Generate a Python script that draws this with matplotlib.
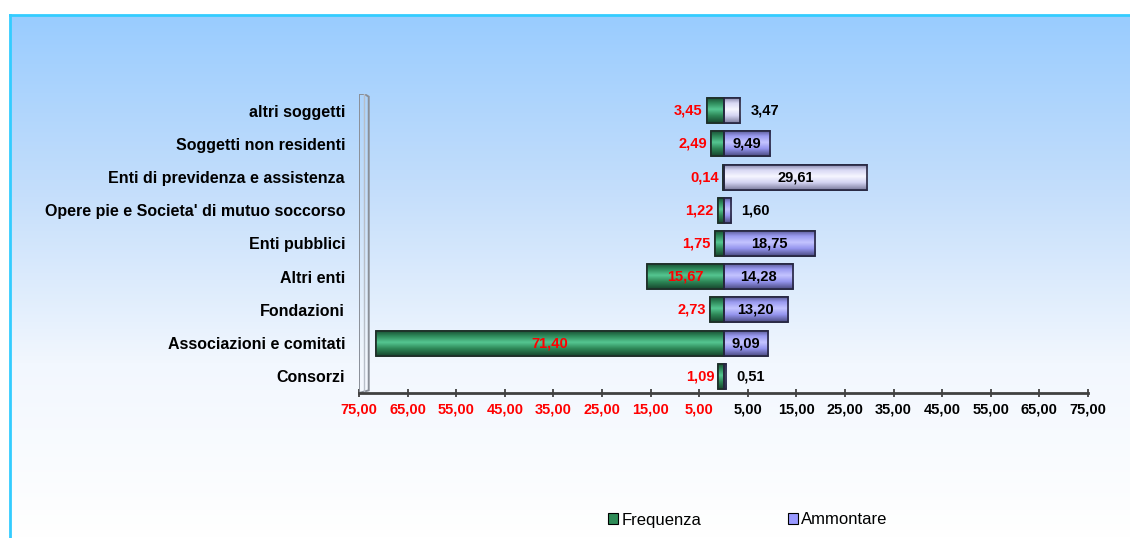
import numpy as np
import matplotlib
matplotlib.use('Agg')
import matplotlib.pyplot as plt
from matplotlib.colors import LinearSegmentedColormap
from matplotlib.patches import Patch, Polygon

plt.rcParams['font.family'] = ['Liberation Sans', 'DejaVu Sans']

# Data (bottom to top)
categorie = ['Consorzi', 'Associazioni e comitati', 'Fondazioni', 'Altri enti',
             'Enti pubblici', "Opere pie e Societa' di mutuo soccorso",
             'Enti di previdenza e assistenza', 'Soggetti non residenti', 'altri soggetti']
frequenza = [1.09, 71.40, 2.73, 15.67, 1.75, 1.22, 0.14, 2.49, 3.45]
ammontare = [0.51, 9.09, 13.20, 14.28, 18.75, 1.60, 29.61, 9.49, 3.47]
tick_vals = [-75, -65, -55, -45, -35, -25, -15, -5, 5, 15, 25, 35, 45, 55, 65, 75]

# lighter shade used on two of the Ammontare bars
amm_light = [False, False, False, False, False, False, True, False, True]

W, H = 1130, 538
fig = plt.figure(figsize=(W / 100, H / 100), dpi=100)

# chart area background: blue to white gradient with a cyan border
bg = fig.add_axes([10 / W, 0, 1 - 10 / W, 1 - 15 / H])
grad = np.linspace(0, 1, 256).reshape(-1, 1)
bg_cmap = LinearSegmentedColormap.from_list('bg', ['#99CCFF', '#C4DEFB', '#F2F7FE', '#FFFFFF'])
bg.imshow(grad, aspect='auto', cmap=bg_cmap, extent=[0, 1, 0, 1], origin='upper')
bg.set_xlim(0, 1)
bg.set_ylim(0, 1)
for s in bg.spines.values():
    s.set_visible(False)
bg.spines['top'].set_visible(True)
bg.spines['left'].set_visible(True)
bg.spines['top'].set_color('#33CCFF')
bg.spines['left'].set_color('#33CCFF')
bg.spines['top'].set_linewidth(2)
bg.spines['left'].set_linewidth(2)
bg.set_xticks([])
bg.set_yticks([])

ax = fig.add_axes([359 / W, 1 - 393 / H, (1088 - 359) / W, (393 - 94) / H])
ax.patch.set_visible(False)

y = np.arange(len(categorie))
bar_h = 0.75

green_cmap = LinearSegmentedColormap.from_list(
    'g', [(0, '#1B5236'), (0.2, '#2F8A5B'), (0.45, '#55C691'), (0.7, '#2E8857'), (1, '#17452D')])
lav_cmap = LinearSegmentedColormap.from_list(
    'l', [(0, '#5E5E9C'), (0.2, '#9A9AF0'), (0.45, '#C4C4FF'), (0.7, '#9595EE'), (1, '#4A4A80')])
lav_light_cmap = LinearSegmentedColormap.from_list(
    'll', [(0, '#8A8AAE'), (0.2, '#D8D8F4'), (0.45, '#F6F6FF'), (0.7, '#D4D4F2'), (1, '#7A7A9C')])

bars_f = ax.barh(y, [-v for v in frequenza], height=bar_h, color='#2E8B57',
                 edgecolor='#1E2E28', linewidth=1.2, zorder=3)
bars_a = ax.barh(y, ammontare, height=bar_h, color='#9999FF',
                 edgecolor='#262640', linewidth=1.2, zorder=3)


def shade(bar, cmap):
    x0, y0 = bar.get_x(), bar.get_y()
    w, h = bar.get_width(), bar.get_height()
    im = ax.imshow(grad, aspect='auto', cmap=cmap, origin='upper',
                   extent=[x0, x0 + w, y0, y0 + h], zorder=3.5)
    im.set_clip_path(bar)
    ax.barh(y0 + h / 2, w, left=x0, height=h, color='none',
            edgecolor=bar.get_edgecolor(), linewidth=1.2, zorder=4)


for b in bars_f:
    shade(b, green_cmap)
for b, light in zip(bars_a, amm_light):
    shade(b, lav_light_cmap if light else lav_cmap)

lbl_size = 10.5
# value labels
for i, (f, a) in enumerate(zip(frequenza, ammontare)):
    if f >= 8:
        ax.text(-f / 2, i, f'{f:.2f}'.replace('.', ','), color='red', fontsize=lbl_size,
                fontweight='bold', ha='center', va='center', zorder=5)
    else:
        ax.annotate(f'{f:.2f}'.replace('.', ','), (-f, i), xytext=(-4, 0),
                    textcoords='offset pixels', color='red', fontsize=lbl_size,
                    fontweight='bold', ha='right', va='center', zorder=5)
    if a >= 8:
        ax.text(a / 2, i, f'{a:.2f}'.replace('.', ','), color='black', fontsize=lbl_size,
                fontweight='bold', ha='center', va='center', zorder=5)
    else:
        ax.annotate(f'{a:.2f}'.replace('.', ','), (a, i), xytext=(10, 0),
                    textcoords='offset pixels', color='black', fontsize=lbl_size,
                    fontweight='bold', ha='left', va='center', zorder=5)

ax.set_xlim(-75, 75)
ax.set_ylim(-0.5, len(categorie) - 0.5)

# thin 3D wall on the category side
n = len(categorie)
wall = Polygon([(-75, -0.5), (-75, n - 0.5), (-73.9, n - 0.5), (-73.0, n - 0.58),
                (-73.0, -0.42)], closed=True, facecolor='none', edgecolor='#8A8F98',
               linewidth=1.4, zorder=2)
ax.add_patch(wall)
ax.plot([-73.9, -73.9], [-0.46, n - 0.5], color='#B8BEC8', lw=1.0, zorder=2)

ax.set_yticks(y)
ax.set_yticklabels(categorie, fontsize=11.5, fontweight='bold')
ax.tick_params(axis='y', length=0, pad=10)

ax.set_xticks(tick_vals)
ax.set_xticklabels([f'{abs(v):.2f}'.replace('.', ',') for v in tick_vals],
                   fontsize=10.5, fontweight='bold')
for lbl, v in zip(ax.get_xticklabels(), tick_vals):
    lbl.set_color('red' if v < 0 else 'black')
ax.tick_params(axis='x', direction='inout', length=6, width=1.2, color='#333333', pad=4)

for s in ['top', 'right', 'left']:
    ax.spines[s].set_visible(False)
ax.spines['bottom'].set_color('#404040')
ax.spines['bottom'].set_linewidth(2)

handles = [Patch(facecolor='#2E8B57', edgecolor='black', linewidth=0.8, label='Frequenza'),
           Patch(facecolor='#9999FF', edgecolor='black', linewidth=0.8, label='Ammontare')]
fig.legend(handles=handles, loc='center', bbox_to_anchor=(748 / W, 1 - 520 / H), ncol=2,
           frameon=False, fontsize=12, handlelength=0.6, handleheight=0.6,
           handletextpad=0.2, columnspacing=5.2)

fig.savefig('out.png', dpi=100)
